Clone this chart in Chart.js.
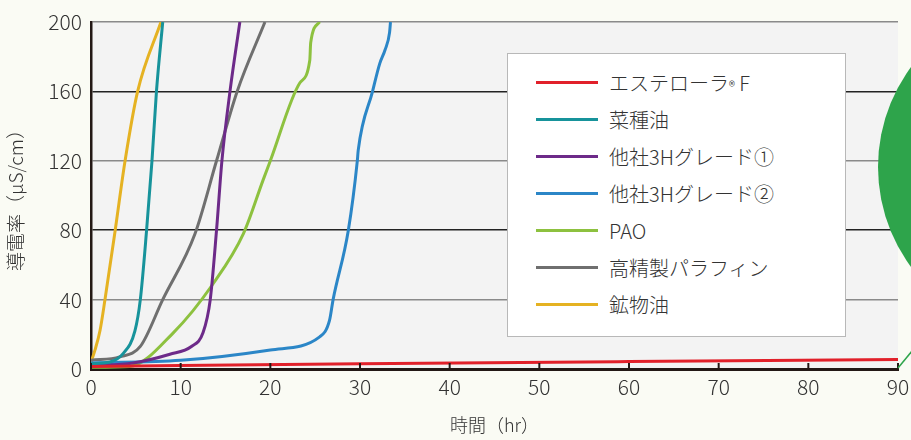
<!DOCTYPE html>
<html>
<head>
<meta charset="utf-8">
<script src="https://cdn.jsdelivr.net/npm/chart.js@4"></script>
<style>
  html, body { margin: 0; padding: 0; background: #fafbf4; }
  #wrap { position: relative; width: 911px; height: 440px; overflow: hidden; }
  #legend {
    position: absolute; left: 507px; top: 53px; width: 337px; height: 282px;
    background: #fff; border: 1.5px solid #b8b8b8;
    font-family: "Noto Sans CJK JP", sans-serif; font-size: 20px; font-weight: 300; color: #333;
  }
  #legend .row { position: absolute; left: 0; height: 26px; }
  #legend .swatch { position: absolute; left: 28px; top: 11px; width: 62px; height: 3px; }
  #legend .txt { position: absolute; left: 101px; top: 0; white-space: nowrap; line-height: 26px; }
  #legend small { font-size: 13px; }
</style>
</head>
<body>
<div id="wrap">
  <canvas id="chart" width="911" height="440"></canvas>
  <div id="legend"></div>
</div>
<script>
// series labels + colours
var labels = ['エステローラ® F', '菜種油', '他社3Hグレード①', '他社3Hグレード②', 'PAO', '高精製パラフィン', '鉱物油']
var colors = ['#e1202a', '#17939b', '#6d2a89', '#2b86c7', '#8dc13f', '#6f6f6f', '#e5b222']

// hours / conductivity
var esteroraX = [0, 30, 60, 90]
var esteroraY = [1.5, 3, 4.3, 5.5]
var rapeseedX = [0, 2.1, 3.6, 4.9, 5.5, 6.2, 6.8, 7.3, 8.0]
var rapeseedY = [3, 4, 9, 22, 40, 80, 120, 160, 200]
var other1X = [0, 4.7, 8.8, 11.2, 12.5, 13.3, 14, 14.6, 15.5, 16.6]
var other1Y = [2, 3.5, 8.5, 13, 21, 40, 80, 120, 160, 200]
var other2X = [0, 10, 20, 25.5, 26.6, 27, 28.7, 29.7, 29.8, 31.4, 32.2, 32.8, 33.3, 33.4]
var other2Y = [3.5, 5, 11, 18.5, 28, 40, 80, 120, 126, 160, 176, 184, 194, 200]
var paoX = [0, 4.3, 9.2, 13.6, 17, 19.2, 20, 23.3, 24.4, 24.5, 25.5]
var paoY = [1, 1.5, 21, 49, 78, 109, 120, 165, 178, 188, 200]
var paraffinX = [0, 3.2, 5.5, 8, 11.6, 14, 16.3, 19.4]
var paraffinY = [5, 7, 13, 40, 78, 120, 160, 200]
var mineralX = [0, 0.45, 1, 1.56, 2.7, 3.8, 5.2, 7.8]
var mineralY = [4, 11, 22, 40, 80, 120, 160, 200]

var xTicks = [0, 10, 20, 30, 40, 50, 60, 70, 80, 90]
var yTicks = [0, 40, 80, 120, 160, 200]

function pts(xs, ys) {
    return xs.map(function (x, i) { return { x: x, y: ys[i] } })
}
var seriesX = [esteroraX, rapeseedX, other1X, other2X, paoX, paraffinX, mineralX]
var seriesY = [esteroraY, rapeseedY, other1Y, other2Y, paoY, paraffinY, mineralY]

var datasets = labels.map(function (l, i) {
    return {
        label: l,
        data: pts(seriesX[i], seriesY[i]),
        borderColor: colors[i],
        borderWidth: 3,
        pointRadius: 0,
        cubicInterpolationMode: 'monotone',
        order: i == 0 ? 0 : 1
    }
})

var font = "'Noto Sans CJK JP', sans-serif"

// plot fill, inward x ticks, green circle decoration
var decor = {
    id: 'decor',
    beforeDraw: function (chart) {
        var a = chart.chartArea, c = chart.ctx
        c.save()
        c.fillStyle = '#f3f3f3'
        c.fillRect(a.left, a.top, a.right - a.left, a.bottom - a.top)
        c.restore()
    },
    afterDatasetsDraw: function (chart) {
        var a = chart.chartArea, c = chart.ctx, xs = chart.scales.x
        c.save()
        c.strokeStyle = '#231815'
        c.lineWidth = 2
        xTicks.forEach(function (t) {
            var px = xs.getPixelForValue(t)
            c.beginPath(); c.moveTo(px, a.bottom); c.lineTo(px, a.bottom - 6); c.stroke()
        })
        c.restore()
    },
    afterDraw: function (chart) {
        var c = chart.ctx
        c.save()
        c.fillStyle = '#2ea44b'
        c.beginPath(); c.arc(1046, 167, 168, 0, Math.PI * 2); c.fill()
        c.strokeStyle = '#2ea44b'
        c.lineWidth = 1.5
        c.beginPath(); c.moveTo(898, 368); c.lineTo(912, 351); c.stroke()
        c.restore()
    }
}

var chart = new Chart(document.getElementById('chart').getContext('2d'), {
    type: 'line',
    data: { datasets: datasets },
    options: {
        responsive: false,
        animation: false,
        layout: { padding: { top: 22, right: 13, left: 0, bottom: 0 } },
        plugins: { legend: { display: false }, tooltip: { enabled: false } },
        scales: {
            x: {
                type: 'linear', min: 0, max: 90,
                afterBuildTicks: function (s) { s.ticks = xTicks.map(function (v) { return { value: v } }) },
                afterFit: function (s) { s.height = 71; s.paddingLeft = 0; s.paddingRight = 0 },
                grid: { drawOnChartArea: false, drawTicks: false },
                border: { display: true, color: '#231815', width: 3 },
                ticks: { color: '#333', padding: 5, font: { family: font, size: 21, weight: 300 }, maxRotation: 0 },
                title: { display: true, text: '時間（hr）', color: '#333', font: { family: font, size: 18, weight: 300 }, padding: { top: 2 } }
            },
            y: {
                min: 0, max: 200,
                afterBuildTicks: function (s) { s.ticks = yTicks.map(function (v) { return { value: v } }) },
                afterFit: function (s) { s.width = 91; s.paddingTop = 0; s.paddingBottom = 0 },
                grid: {
                    drawTicks: false,
                    color: function (ctx) { return ctx.tick && ctx.tick.value % 80 == 0 ? '#222' : '#8a8a8a' },
                    lineWidth: 1.5
                },
                border: { display: true, color: '#231815', width: 2.5 },
                ticks: { color: '#333', padding: 9, font: { family: font, size: 21, weight: 300 } },
                title: { display: true, text: '導電率（μS/cm）', color: '#333', font: { family: font, size: 19, weight: 300 }, padding: { bottom: 0 } }
            }
        }
    },
    plugins: [decor]
})

// html legend built from the chart's datasets
var legend = document.getElementById('legend')
chart.data.datasets.forEach(function (ds, i) {
    var row = document.createElement('div')
    row.className = 'row'
    row.style.top = (16 + i * 37) + 'px'
    var sw = document.createElement('span')
    sw.className = 'swatch'
    sw.style.background = ds.borderColor
    var tx = document.createElement('span')
    tx.className = 'txt'
    tx.innerHTML = ds.label.replace('®', '<small>®</small>')
    row.appendChild(sw)
    row.appendChild(tx)
    legend.appendChild(row)
})
</script>
</body>
</html>
